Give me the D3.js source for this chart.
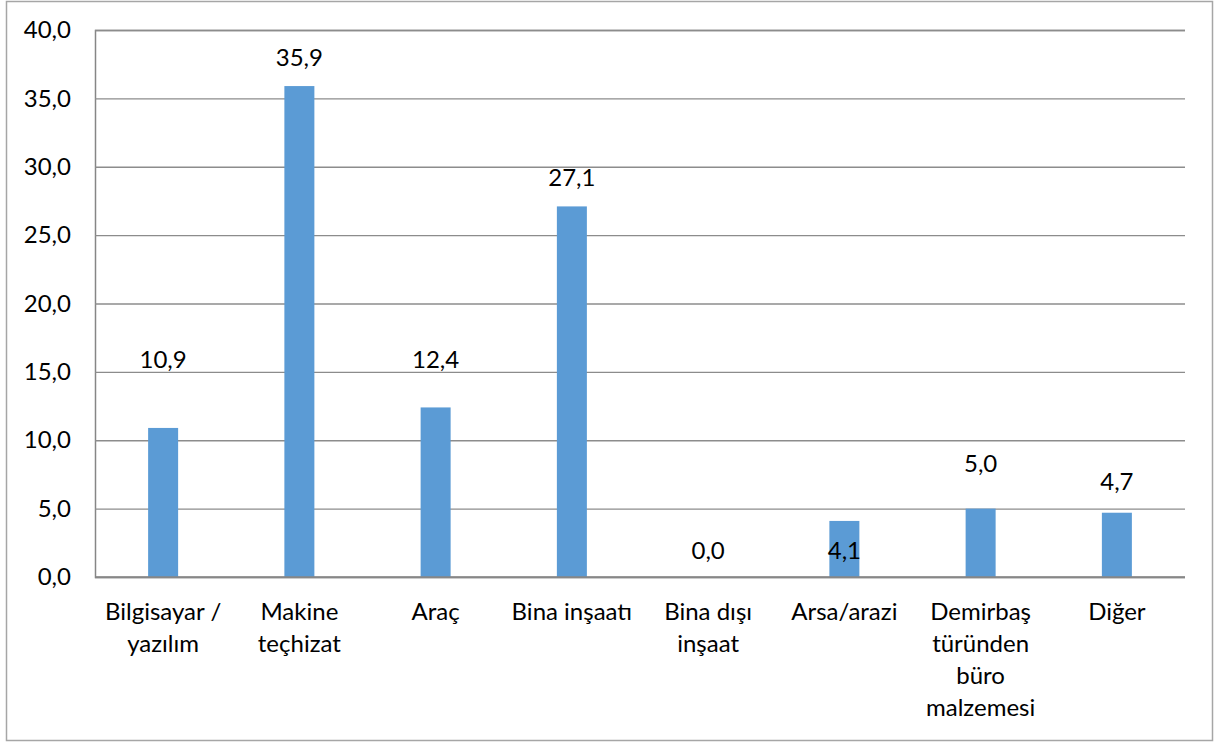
<!DOCTYPE html>
<html><head><meta charset="utf-8">
<script src="https://cdn.jsdelivr.net/npm/d3@7"></script>
<style>body{margin:0;background:#fff}svg{display:block}</style>
</head><body><svg id="c" width="1215" height="742"></svg>
<script>
const categories = ["Bilgisayar /\nyazılım","Makine\nteçhizat","Araç","Bina inşaatı","Bina dışı\ninşaat","Arsa/arazi","Demirbaş\ntüründen\nbüro\nmalzemesi","Diğer"];
const values = [10.9,35.9,12.4,27.1,0.0,4.1,5.0,4.7];
const labelAt = [15.9,38.0,15.9,29.2,1.9,1.9,8.3,7.0];
const yTicks = [0,5,10,15,20,25,30,35,40];

const svg = d3.select("#c");
const font = "Lato, 'Open Sans', sans-serif";
const fs = 24;
const L=95, R=1185, T=30, B=577;
svg.append("rect").attr("x",6.5).attr("y",1.5).attr("width",1206).attr("height",739)
  .attr("fill","#fff").attr("stroke","#a6a6a6").attr("stroke-width",1.5);

const x = d3.scaleBand().domain(categories).range([L,R]);
const y = d3.scaleLinear().domain([0,40]).range([B,T]);
const fmt = d => d.toFixed(1).replace(".",",");

const yAxis = svg.append("g").attr("transform",`translate(${L},0)`)
  .call(d3.axisLeft(y).tickValues(yTicks).tickSize(-(R-L)).tickFormat(fmt));
yAxis.select(".domain").attr("stroke","#868686").attr("stroke-width",1.5);
yAxis.selectAll(".tick line").attr("stroke","#8c8c8c").attr("stroke-width",1.3);
yAxis.selectAll(".tick text").attr("x",-24).attr("font-family",font).attr("font-size",fs).attr("fill","#000");

svg.selectAll("rect.bar").data(values).join("rect").attr("class","bar")
  .attr("x",(d,i)=>x(categories[i])+x.bandwidth()/2-15).attr("width",30)
  .attr("y",d=>y(d)).attr("height",d=>y(0)-y(d)).attr("fill","#5b9bd5");

svg.append("line").attr("x1",L).attr("x2",R).attr("y1",y(0)).attr("y2",y(0))
  .attr("stroke","#868686").attr("stroke-width",1.5);

svg.selectAll("text.lbl").data(values).join("text").attr("class","lbl")
  .attr("x",(d,i)=>x(categories[i])+x.bandwidth()/2).attr("y",(d,i)=>y(labelAt[i]))
  .attr("dy","0.35em").attr("text-anchor","middle").attr("font-family",font).attr("font-size",fs)
  .text(fmt);

const cat = svg.append("g");
categories.forEach(c=>{
  const t = cat.append("text").attr("text-anchor","middle").attr("font-family",font).attr("font-size",fs);
  c.split("\n").forEach((ln,j)=>{
    t.append("tspan").attr("x",x(c)+x.bandwidth()/2).attr("y",612+j*32).attr("dy","0.35em").text(ln);
  });
});
</script></body></html>
